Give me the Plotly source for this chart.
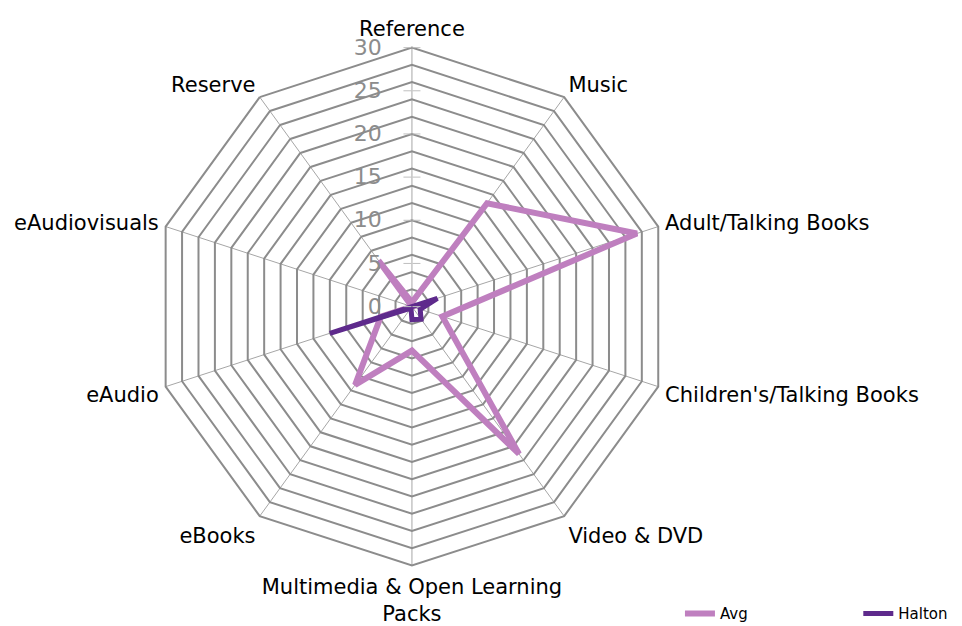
'''
    Radar chart of loans by category, Halton against the average.
'''

import plotly.graph_objects as go

CATEGORIES = [
    'Reference', 'Music', 'Adult/Talking Books', "Children's/Talking Books",
    'Video & DVD', 'Multimedia & Open Learning<br>Packs', 'eBooks', 'eAudio',
    'eAudiovisuals', 'Reserve'
]
AVG = [0.5, 14.8, 27.4, 3.7, 21.1, 5.1, 11.2, 3.8, 0.0, 6.6]
HALTON = [0.0, 0.0, 3.1, 1.0, 1.8, 1.5, 0.2, 10.0, 0.0, 0.0]
TICK_VALUES = [0, 5, 10, 15, 20, 25, 30]

AVG_COLOR = '#BF7FBF'
HALTON_COLOR = '#5E2A8C'
GRID_COLOR = '#8C8C8C'
TICK_COLOR = '#BFBFBF'
FONT = 'DejaVu Sans'

DOMAIN = dict(x=[0.1507, 0.6891], y=[0.1092, 0.9368])


def closed(values):
    return values + values[:1]


def overlay_polar(radialaxis):
    '''
        A transparent polar subplot on top of the main one, used only to
        draw the value labels and the small tick marks on the vertical axis.
    '''
    axis = dict(range=[0, 30], tickvals=TICK_VALUES, showgrid=False,
                showline=False, angle=90, showticklabels=False)
    axis.update(radialaxis)
    return dict(
        domain=DOMAIN,
        gridshape='linear',
        bgcolor='rgba(0,0,0,0)',
        radialaxis=axis,
        angularaxis=dict(rotation=90, direction='clockwise', showline=False,
                         showgrid=False, showticklabels=False, ticks=''),
    )


fig = go.Figure()

# the trailing no-break spaces only give the legend text some room
for name, values, color, width, legend in [
        ('Avg', AVG, AVG_COLOR, 6, 'legend'),
        ('Halton\u00a0\u00a0', HALTON, HALTON_COLOR, 5, 'legend2')]:
    fig.add_trace(go.Scatterpolar(
        r=closed(values),
        theta=closed(CATEGORIES),
        name=name,
        mode='lines',
        line=dict(color=color, width=width),
        subplot='polar',
        legend=legend
    ))

# empty traces so that the overlay subplots get drawn
for subplot in ['polar2', 'polar3', 'polar4']:
    fig.add_trace(go.Scatterpolar(r=[0], theta=[0], mode='markers',
                                  marker=dict(opacity=0), showlegend=False,
                                  hoverinfo='skip', subplot=subplot))

legend_style = dict(orientation='h', y=0.006, yanchor='bottom',
                    bgcolor='rgba(0,0,0,0)',
                    font=dict(size=15, family=FONT, color='black'))

fig.update_layout(
    width=962,
    height=626,
    margin=dict(l=0, r=0, t=0, b=0, autoexpand=False),
    paper_bgcolor='white',
    font=dict(family=FONT, color='black'),
    polar=dict(
        domain=DOMAIN,
        gridshape='linear',
        bgcolor='white',
        radialaxis=dict(
            range=[0, 30],
            dtick=2,
            showticklabels=False,
            ticks='',
            showline=False,
            gridcolor=GRID_COLOR,
            gridwidth=2,
            angle=90,
        ),
        angularaxis=dict(
            rotation=90,
            direction='clockwise',
            categoryorder='array',
            categoryarray=CATEGORIES,
            showline=True,
            linecolor=GRID_COLOR,
            linewidth=2,
            gridcolor='#A6A6A6',
            gridwidth=1,
            ticks='outside',
            ticklen=2,
            tickcolor='rgba(0,0,0,0)',
            tickfont=dict(size=21, color='black', family=FONT),
        ),
    ),
    polar2=overlay_polar(dict(
        side='counterclockwise',
        showticklabels=True,
        ticks='outside',
        ticklen=22,
        tickcolor='rgba(0,0,0,0)',
        tickangle=90,
        tickfont=dict(size=22, color=GRID_COLOR, family=FONT),
    )),
    polar3=overlay_polar(dict(side='counterclockwise', ticks='outside',
                              ticklen=8, tickcolor=TICK_COLOR)),
    polar4=overlay_polar(dict(side='clockwise', ticks='outside',
                              ticklen=8, tickcolor=TICK_COLOR)),
    legend=dict(x=0.6985, xanchor='left', **legend_style),
    legend2=dict(x=0.992, xanchor='right', **legend_style),
)

fig.write_html('out.html')
